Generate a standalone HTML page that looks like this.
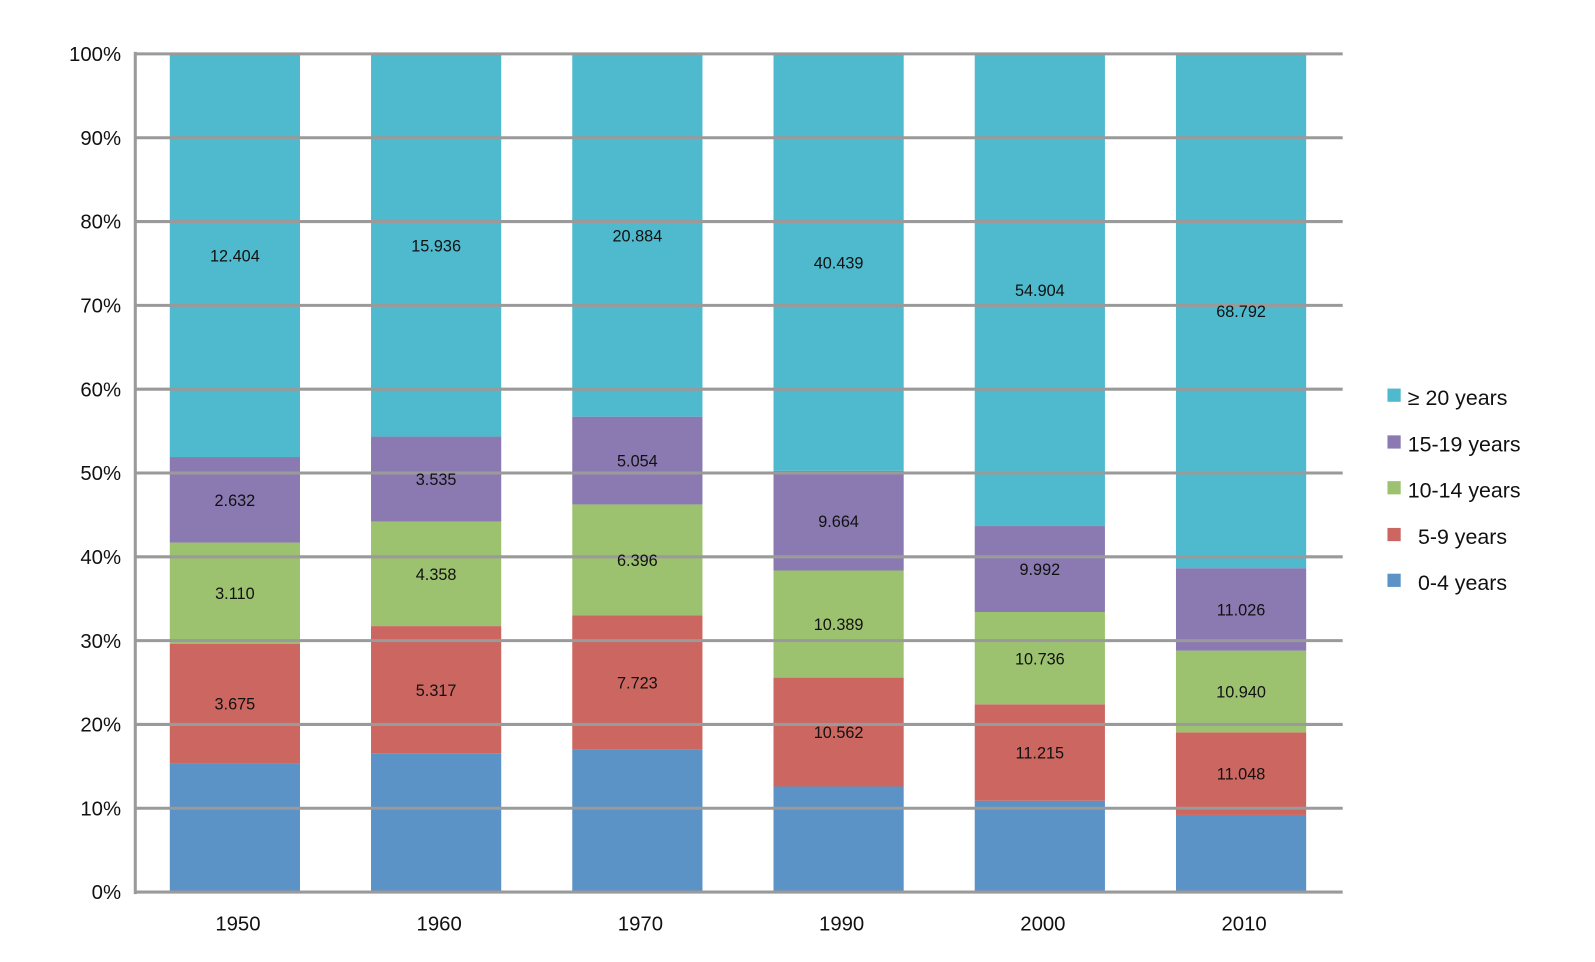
<!DOCTYPE html>
<html><head><meta charset="utf-8"><style>
html,body{margin:0;padding:0;background:#fff;}
svg{display:block;font-family:"Liberation Sans",Helvetica,sans-serif;}
</style></head><body>
<svg width="1595" height="962"><g id="chart" transform="scale(1.0172)"></g></svg>
<script>
const categories = ["1950","1960","1970","1990","2000","2010"];
const seriesNames = ["0-4 years","5-9 years","10-14 years","15-19 years","\u2265 20 years"];
const s0_4 = [3.97,5.76,8.20,10.24,10.62,10.32];
const s5_9 = [3.675,5.317,7.723,10.562,11.215,11.048];
const s10_14 = [3.110,4.358,6.396,10.389,10.736,10.940];
const s15_19 = [2.632,3.535,5.054,9.664,9.992,11.026];
const s20 = [12.404,15.936,20.884,40.439,54.904,68.792];
const showLabel = [false,true,true,true,true];
const yTicks = [0,10,20,30,40,50,60,70,80,90,100];
const colors = ["#5b93c7","#cc6660","#9dc26f","#8a7ab1","#4fbacd"];
const series = [s0_4,s5_9,s10_14,s15_19,s20];

const NS="http://www.w3.org/2000/svg";
const svg=document.getElementById('chart');
const X0=133,X1=1320,Y0=877,Y1=53;
const band=(X1-X0)/categories.length, bw=128;
const y=p=>Y0-(Y0-Y1)*p/100;
const xc=i=>X0+band*(i+0.5)-1;
function mk(t,a){const e=document.createElementNS(NS,t);for(const k in a)e.setAttribute(k,a[k]);svg.appendChild(e);return e;}

categories.forEach((c,i)=>{
  const tot=series.reduce((s,a)=>s+a[i],0);
  let acc=0;
  series.forEach((a,k)=>{
    const p0=acc/tot*100, p1=(acc+a[i])/tot*100; acc+=a[i];
    const r=mk('rect',{x:xc(i)-bw/2,y:y(p1),width:bw,height:y(p0)-y(p1),fill:colors[k]});
    
    
  });
});
yTicks.forEach(t=>{
  const l=mk('line',{x1:X0,x2:X1,y1:y(t),y2:y(t),stroke:'#9a9a9a','stroke-width':3});
  
  
  const tx=mk('text',{x:119,y:y(t)+7,'text-anchor':'end','font-size':20,fill:'#111'});
  tx.textContent=t+'%';
  
  
});
const ax=mk('line',{x1:X0,x2:X0,y1:Y1-2,y2:Y0+2,stroke:'#9a9a9a','stroke-width':3});


categories.forEach((c,i)=>{
  const tot=series.reduce((s,a)=>s+a[i],0);
  let acc=0;
  series.forEach((a,k)=>{
    const p0=acc/tot*100, p1=(acc+a[i])/tot*100; acc+=a[i];
    if(!showLabel[k])return;
    const t=mk('text',{x:xc(i),y:(y(p0)+y(p1))/2+6,'text-anchor':'middle','font-size':16,fill:'#111'});
    t.textContent=a[i].toFixed(3);
    
    
  });
  const xl=mk('text',{x:xc(i)+3,y:915,'text-anchor':'middle','font-size':20,fill:'#111'});
  xl.textContent=c;
  
  
});
const legY=[572,527,481,436,390];
seriesNames.forEach((n,k)=>{
  const r=mk('rect',{x:1364,y:legY[k]-8,width:13,height:13,fill:colors[k]});
  
  
  const t=mk('text',{x:(k<2?1394:1384),y:legY[k]+8,'font-size':21,fill:'#111'});
  t.textContent=n;
  
  
});
</script>
</body></html>
